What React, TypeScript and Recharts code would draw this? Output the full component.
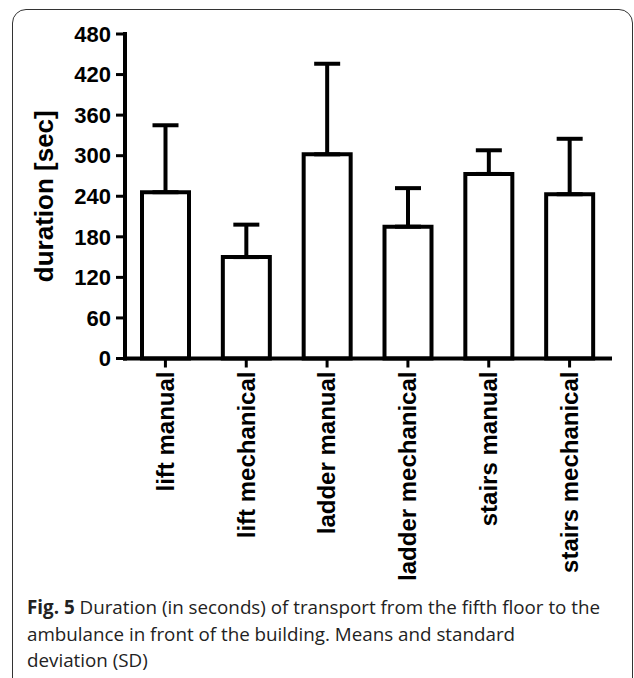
import React from "react";
import { BarChart, Bar, XAxis, YAxis, ErrorBar } from "recharts";

const categories = [
  "lift manual",
  "lift mechanical",
  "ladder manual",
  "ladder mechanical",
  "stairs manual",
  "stairs mechanical",
];
const means = [246, 150, 302, 195, 273, 243];
const sds = [99, 48, 134, 57, 35, 82];
const yTicks = [0, 60, 120, 180, 240, 300, 360, 420, 480];

const data = categories.map((name, i) => ({
  name,
  mean: means[i],
  err: [0, sds[i]],
}));

const AXIS_FONT = "'Liberation Sans', Arial, Helvetica, sans-serif";

function XTick(props: any) {
  const { x, y, payload } = props;
  return (
    <text
      x={x}
      y={y}
      transform={`rotate(-90, ${x}, ${y})`}
      textAnchor="end"
      dy="0.35em"
      fontFamily={AXIS_FONT}
      fontWeight="bold"
      fontSize={24}
      fill="#000"
    >
      {payload.value}
    </text>
  );
}

export default function App() {
  return (
    <div
      style={{
        position: "fixed",
        left: 0,
        top: 0,
        width: 634,
        height: 678,
        overflow: "hidden",
        background: "#fff",
      }}
    >
      <div
        style={{
          position: "absolute",
          left: 12,
          top: 9,
          width: 621,
          height: 800,
          border: "1.5px solid #333",
          borderRadius: 14,
          boxSizing: "border-box",
        }}
      />
      <div style={{ position: "absolute", left: 0, top: 0 }}>
        <BarChart
          width={634}
          height={600}
          data={data}
          margin={{ top: 34, right: 24, left: 0, bottom: 101.5 }}
          barSize={47}
        >
          <XAxis
            dataKey="name"
            interval={0}
            height={140}
            tickSize={9}
            tickMargin={4}
            axisLine={{ stroke: "#000", strokeWidth: 4, strokeLinecap: "square" }}
            tickLine={{ stroke: "#000", strokeWidth: 3 }}
            tick={(p: any) => <XTick {...p} />}
          />
          <YAxis
            width={125}
            domain={[0, 480]}
            ticks={yTicks}
            interval={0}
            tickSize={9}
            tickMargin={5}
            axisLine={{ stroke: "#000", strokeWidth: 4, strokeLinecap: "square" }}
            tickLine={{ stroke: "#000", strokeWidth: 3 }}
            tick={{
              fill: "#000",
              fontSize: 22,
              fontWeight: "bold",
              fontFamily: AXIS_FONT,
            }}
            label={{
              value: "duration [sec]",
              angle: -90,
              position: "insideLeft",
              dx: 39,
              style: {
                fill: "#000",
                fontSize: 26,
                fontWeight: "bold",
                fontFamily: AXIS_FONT,
                textAnchor: "middle",
              },
            }}
          />
          <Bar
            dataKey="mean"
            fill="#fff"
            stroke="#000"
            strokeWidth={4}
            isAnimationActive={false}
          >
            <ErrorBar
              dataKey="err"
              width={13}
              stroke="#000"
              strokeWidth={4}
              direction="y"
            />
          </Bar>
        </BarChart>
      </div>
      <div
        style={{
          position: "absolute",
          left: 27,
          top: 594,
          fontFamily: "'Open Sans', sans-serif",
          fontSize: 18.8,
          lineHeight: "26.5px",
          color: "#222",
          whiteSpace: "nowrap",
        }}
      >
        <b>Fig. 5</b> Duration (in seconds) of transport from the fifth floor to the
        <br />
        ambulance in front of the building. Means and standard
        <br />
        deviation (SD)
      </div>
    </div>
  );
}
